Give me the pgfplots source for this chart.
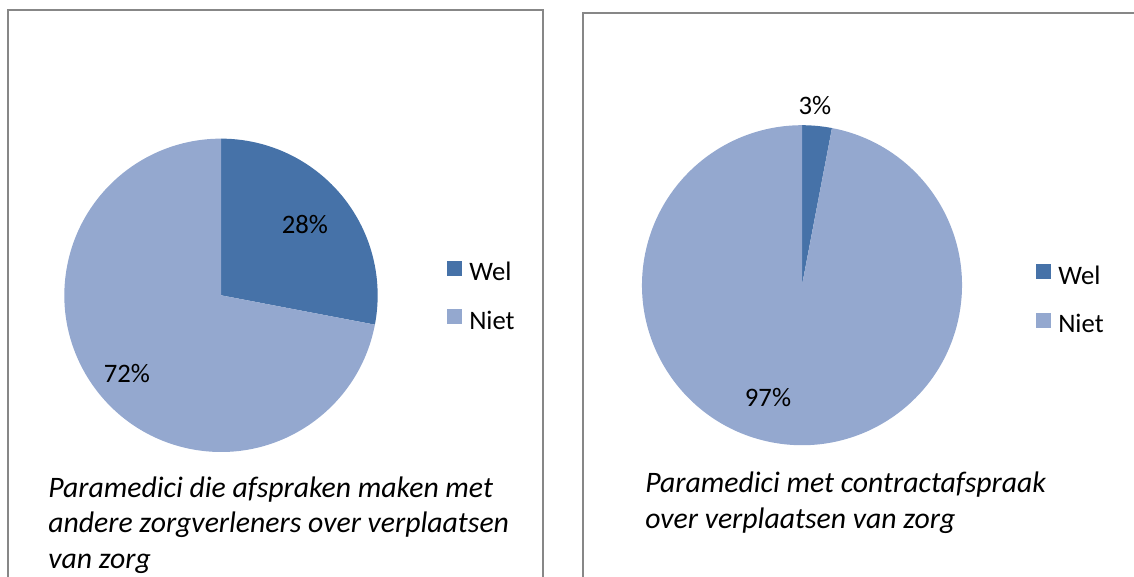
\documentclass[border=0pt]{standalone}
\usepackage{pgfplots}
\pgfplotsset{compat=1.18}
\usepackage{pgfplotstable}
\usepackage{fontspec}
\setmainfont{Carlito}
\definecolor{welc}{HTML}{4672A8}
\definecolor{nietc}{HTML}{94A8CF}
\definecolor{framec}{HTML}{878787}

\pgfplotstableread{
label value
Wel 28
Niet 72
}\dataA
\pgfplotstableread{
label value
Wel 3
Niet 97
}\dataB

\pgfplotsset{
  piestyle/.style={
    anchor=origin, xmin=-1, xmax=1, ymin=-1, ymax=1,
    hide axis, clip=false,
    legend cell align=left,
    legend image code/.code={\fill[##1, draw=none] (0pt,-2.5pt) rectangle (11.25pt,8.75pt);},
    legend style={anchor=west, draw=none, fill=none, inner sep=0pt, outer sep=0pt,
      row sep=20pt, column sep=5.5pt, font=\fontsize{20}{24}\selectfont,
      nodes={inner sep=0pt}},
  }
}

\begin{document}
\begin{tikzpicture}
\pgfplotstablegetelem{0}{value}\of\dataA
\pgfmathsetmacro{\aW}{90-3.6*\pgfplotsretval}
\pgfplotstablegetelem{0}{value}\of\dataB
\pgfmathsetmacro{\bW}{90-3.6*\pgfplotsretval}
\begin{scope}[x=0.75pt, y=-0.75pt]
\useasboundingbox (0,0) rectangle (1134,576);
\draw[framec, line width=1.5pt] (8,582) -- (8,10) -- (543,10) -- (543,582);
\draw[framec, line width=1.5pt] (583,582) -- (583,13) -- (1140,13);
\begin{scope}[font=\fontsize{22.3}{27}\selectfont\itshape]
\node[anchor=base west, inner sep=0pt] at (48,497) {Paramedici die afspraken maken met};
\node[anchor=base west, inner sep=0pt] at (48,532.5) {andere zorgverleners over verplaatsen};
\node[anchor=base west, inner sep=0pt] at (48,568) {van zorg};
\node[anchor=base west, inner sep=0pt] at (645,492.5) {Paramedici met contractafspraak};
\node[anchor=base west, inner sep=0pt] at (645,528.5) {over verplaatsen van zorg};
\end{scope}
\end{scope}

\begin{axis}[piestyle, at={(165.75pt,-221.475pt)}, x=117.5pt, y=117.5pt,
  legend style={at={(axis description cs:1.221,0.498)}}]
\fill[welc] (axis cs:0,0) -- (axis cs:0,1) arc[start angle=90, end angle=\aW, radius=117.5pt] -- cycle;
\fill[nietc] (axis cs:0,0) -- (axis cs:{cos(\aW)},{sin(\aW)}) arc[start angle=\aW, end angle=-270, radius=117.5pt] -- cycle;
\node[font=\fontsize{20}{24}\selectfont] at (axis cs:0.536,0.449) {28\%};
\node[font=\fontsize{20}{24}\selectfont] at (axis cs:-0.600,-0.496) {72\%};
\addlegendimage{fill=welc}
\addlegendentry{Wel}
\addlegendimage{fill=nietc}
\addlegendentry{Niet}
\end{axis}

\begin{axis}[piestyle, at={(601.5pt,-213.9pt)}, x=120pt, y=120pt,
  legend style={at={(axis description cs:1.231,0.455)}}]
\fill[welc] (axis cs:0,0) -- (axis cs:0,1) arc[start angle=90, end angle=\bW, radius=120pt] -- cycle;
\fill[nietc] (axis cs:0,0) -- (axis cs:{cos(\bW)},{sin(\bW)}) arc[start angle=\bW, end angle=-270, radius=120pt] -- cycle;
\node[font=\fontsize{20}{24}\selectfont] at (axis cs:0.081,1.126) {3\%};
\node[font=\fontsize{20}{24}\selectfont] at (axis cs:-0.2125,-0.705) {97\%};
\addlegendimage{fill=welc}
\addlegendentry{Wel}
\addlegendimage{fill=nietc}
\addlegendentry{Niet}
\end{axis}
\end{tikzpicture}
\end{document}
